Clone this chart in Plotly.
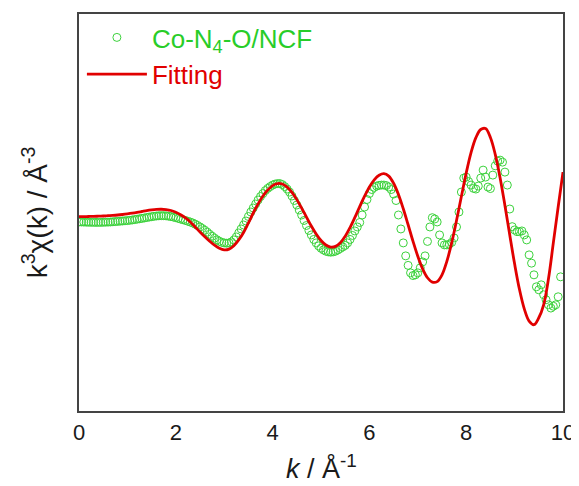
import numpy as np
import plotly.graph_objects as go

# experimental k^3 chi(k) (arbitrary units), k step 0.05 from 0 to 9.95
k_data = [round(0.05 * i, 2) for i in range(200)]
py_data = [
    222.0, 222.0, 222.1, 222.2, 222.3, 222.3, 222.4, 222.4, 222.4, 222.4,
    222.3, 222.2, 222.1, 222.0, 221.8, 221.6, 221.4, 221.2, 221.0, 220.8,
    220.6, 220.3, 220.0, 219.6, 219.2, 218.8, 218.4, 218.0, 217.5, 217.1,
    216.7, 216.3, 216.0, 215.8, 215.7, 215.7, 215.9, 216.2, 216.6, 217.1,
    217.7, 218.4, 219.1, 219.8, 220.5, 221.3, 222.1, 223.0, 224.2, 225.5,
    227.0, 228.6, 230.3, 232.2, 234.3, 236.3, 238.2, 239.9, 241.3, 242.4,
    243.0, 243.3, 243.0, 242.0, 240.0, 237.0, 233.0, 229.0, 225.0, 221.0,
    216.5, 212.0, 208.0, 204.0, 200.0, 196.5, 193.5, 190.5, 188.3, 186.5,
    185.0, 184.0, 183.5, 183.5, 184.5, 186.5, 189.0, 192.0, 196.0, 200.5,
    205.0, 210.0, 215.0, 220.5, 225.5, 230.5, 235.0, 239.5, 243.0, 246.0,
    248.3, 250.0, 251.3, 252.0, 252.3, 252.0, 251.3, 250.0, 248.5, 247.0,
    245.5, 243.0, 239.5, 235.5, 231.0, 227.0, 222.5, 215.0, 207.0, 199.5,
    193.5, 189.5, 187.3, 186.0, 185.3, 185.0, 185.0, 185.5, 187.0, 189.5,
    194.0, 200.5, 215.0, 229.0, 243.0, 256.0, 265.5, 273.0, 275.7, 275.0,
    273.0, 268.0, 262.0, 256.0, 241.5, 227.0, 217.7, 219.0, 222.0, 235.0,
    243.0, 245.0, 245.0, 244.3, 242.5, 238.0, 227.0, 212.0, 192.0, 178.0,
    177.0, 181.5, 185.0, 188.3, 189.0, 186.0, 178.0, 170.0, 177.0, 187.0,
    188.5, 175.0, 165.7, 161.0, 160.0, 162.0, 172.0, 185.0, 209.0, 226.7,
    230.0, 231.7, 231.7, 231.0, 235.0, 240.0, 255.0, 263.3, 275.0, 287.0,
    290.0, 285.0, 295.0, 300.0, 305.0, 308.3, 306.5, 305.0, 297.0, 277.0,
]
chi_data = [round((217.0 - v) / 10.0, 3) for v in py_data]

# fitted curve, k step 0.1 from 0 to 10
k_fit = [round(0.1 * i, 1) for i in range(101)]
py_fit = [
    216.7, 216.6, 216.5, 216.4, 216.2, 216.0, 215.7, 215.4, 215.0, 214.5,
    213.9, 213.2, 212.4, 211.5, 210.6, 209.9, 209.4, 209.25, 209.6, 210.5,
    212.3, 214.8, 218.0, 222.0, 227.0, 232.0, 236.8, 241.3, 245.3, 248.3,
    249.9, 249.2, 245.8, 240.0, 232.5, 223.0, 213.0, 204.0, 196.0, 190.0,
    185.5, 183.5, 183.9, 187.0, 192.4, 199.6, 208.1, 217.1, 226.1, 234.1,
    240.6, 245.1, 247.2, 246.5, 242.8, 236.3, 227.6, 217.4, 206.6, 196.2,
    186.9, 179.7, 175.1, 173.5, 176.0, 183.2, 194.4, 208.7, 224.8, 241.2,
    256.4, 269.0, 277.9, 282.3, 281.8, 275.0, 261.5, 243.0, 220.5, 196.5,
    173.0, 152.5, 137.5, 129.3, 128.4, 137.3, 154.2, 177.6, 205.4, 235.1,
    264.0, 289.5, 309.1, 321.4, 325.0, 318.0, 305.0, 279.0, 243.0, 207.0,
    172.0,
]
chi_fit = [round((217.0 - v) / 10.0, 3) for v in py_fit]

x_ticks = [0, 2, 4, 6, 8, 10]

GREEN = "rgb(60,210,60)"
RED = "rgb(225,0,0)"
FONT = "Liberation Sans, Arial, sans-serif"
TXT = "#1a1a1a"

fig = go.Figure()
fig.add_trace(go.Scatter(
    x=k_data, y=chi_data, mode="markers",
    name='<span style="color:rgb(40,205,40)">Co-N<sub>4</sub>-O/NCF</span>',
    marker=dict(symbol="circle-open", size=8, color=GREEN, line=dict(width=1, color=GREEN)),
))
fig.add_trace(go.Scatter(
    x=k_fit, y=chi_fit, mode="lines", line_shape="spline",
    name='<span style="color:rgb(225,0,0)">Fitting</span>',
    line=dict(color=RED, width=2.8),
))

# page body has an 8px default margin, so the figure is 8px smaller than the window
fig.update_layout(
    width=571, height=478,
    margin=dict(l=71, r=16, t=6, b=75, autoexpand=False),
    paper_bgcolor="white", plot_bgcolor="white",
    font=dict(family=FONT, size=18, color=TXT),
    showlegend=True,
    legend=dict(x=0.006, y=1.0, xanchor="left", yanchor="top",
                bgcolor="rgba(0,0,0,0)", font=dict(size=26, family=FONT),
                tracegroupgap=0, itemwidth=60),
    annotations=[
        dict(text="<i>k</i> / Å<sup>-1</sup>", xref="paper", yref="paper",
             x=0.5, y=-0.092, xanchor="center", yanchor="top", showarrow=False,
             font=dict(size=27, family=FONT, color=TXT)),
        dict(text="k<sup>3</sup>χ(k) / Å<sup>-3</sup>", xref="paper", yref="paper",
             x=-0.05, y=0.5, xanchor="right", yanchor="middle", showarrow=False,
             textangle=-90, font=dict(size=28, family=FONT, color=TXT)),
    ],
)
fig.update_xaxes(
    range=[0, 10], tickvals=x_ticks, ticktext=[str(t) for t in x_ticks],
    showgrid=False, zeroline=False, ticks="", automargin=False,
    showline=True, mirror=True, linecolor="#444", linewidth=1.5,
    tickfont=dict(size=22, family=FONT, color=TXT), ticklabelstandoff=1,
)
fig.update_yaxes(
    range=[-19.45, 20.35], showticklabels=False, automargin=False,
    showgrid=False, zeroline=False, ticks="",
    showline=True, mirror=True, linecolor="#444", linewidth=1.5,
)

fig.write_html("out.html")
